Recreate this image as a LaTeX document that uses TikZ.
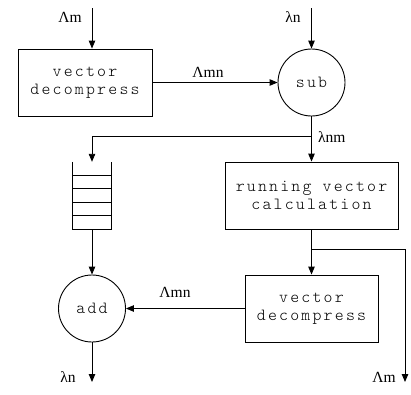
\documentclass[tikz,border=0pt]{standalone}
\usepackage{fontspec}
\setmainfont{Liberation Serif}
\newfontfamily\blkface[Extension=.otf, LetterSpace=13]{lmmonolt10-regular}
\usetikzlibrary{arrows.meta,calc}
\newcommand\blkfont{\blkface\fontsize{17}{18}\selectfont}
\tikzset{
  blk/.style={draw, line width=0.9pt, minimum width=#1, minimum height=67pt, inner sep=0pt,
    align=center, font=\blkfont},
  op/.style={draw, circle, line width=0.9pt, minimum size=67pt, inner sep=0pt,
    font=\blkfont},
  wire/.style={line width=0.9pt},
  flow/.style={wire, -{Triangle[length=8pt,width=6.5pt]}},
  lbl/.style={font=\fontsize{15.5}{16}\selectfont, inner sep=0pt}
}
\begin{document}
\begin{tikzpicture}[x=1pt,y=-1pt]
\useasboundingbox (0,0) rectangle (411,394);

% blocks and operators
\node[blk=134pt] (vd1) at (85,82.5) {vector\\decompress};
\node[op] (sub) at (311.5,82.5) {sub};
\node[minimum width=39pt, minimum height=67pt, inner sep=0pt] (q) at (92,195.5) {};
\node[blk=173pt] (rvc) at (311.5,195.5) {running vector\\calculation};
\node[blk=133pt] (vd2) at (311.5,308.5) {vector\\decompress};
\node[op] (add) at (92,308.5) {add};

% queue drawn as an open-top stack of five slots
\draw[wire] (q.north west) -- (q.south west) -- (q.south east) -- (q.north east);
\foreach \k in {1,...,4}
  \draw[wire] ($(q.north west)!\k/5!(q.south west)$) -- ($(q.north east)!\k/5!(q.south east)$);

% free ends and branch points
\coordinate (in1) at (92,8);
\coordinate (in2) at (311.5,8);
\coordinate (j1) at (311.5,136);
\coordinate (c1) at (92,136);
\coordinate (j2) at (311.5,249);
\coordinate (c2) at (405,249);
\coordinate (out2) at (405,382);
\coordinate (out1) at (92,382);

% connectors
\draw[flow] (in1) -- (vd1.north -| in1);
\draw[flow] (in2) -- (sub.north);
\draw[flow] (vd1.east) -- (sub.west);
\draw[wire] (sub.south) -- (j1);
\draw[flow] (j1) -- (c1) -- (q.north);
\draw[flow] (j1) -- (rvc.north);
\draw[flow] (rvc.south) -- (vd2.north);
\draw[flow] (j2) -- (c2) -- (out2);
\draw[flow] (q.south) -- (add.north);
\draw[flow] (vd2.west) -- (add.east);
\draw[flow] (add.south) -- (out1);

% signal labels
\node[lbl] (l1) at (70,17) {Λm};
\node[lbl] (l2) at (293,17) {λn};
\node[lbl] (l3) at (208,72) {Λmn};
\node[lbl, anchor=west] (l4) at (318,137) {λnm};
\node[lbl] (l5) at (175,292) {Λmn};
\node[lbl] (l6) at (68,377) {λn};
\node[lbl] (l7) at (384,377) {Λm};
\end{tikzpicture}
\end{document}
